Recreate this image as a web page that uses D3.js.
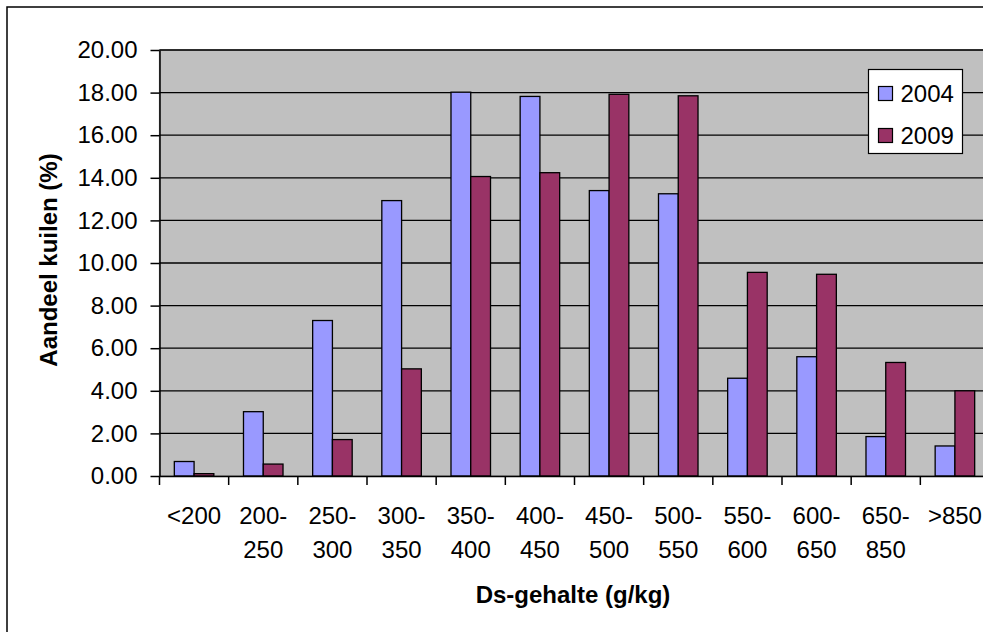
<!DOCTYPE html>
<html>
<head>
<meta charset="utf-8">
<script src="https://cdn.jsdelivr.net/npm/d3@7"></script>
<style>
  html, body { margin: 0; padding: 0; background: #fff; overflow: hidden; }
  text { font-family: Arial, "Liberation Sans", sans-serif; }
</style>
</head>
<body>
<script>
const width = 983;
const height = 632;
const plot = { left: 159.5, top: 50, right: 989.5, bottom: 476 };

const categories = ['<200', '200-250', '250-300', '300-350', '350-400', '400-450',
  '450-500', '500-550', '550-600', '600-650', '650-850', '>850'];
const series = ['2004', '2009'];
const values2004 = [0.68, 3.02, 7.30, 12.93, 18.02, 17.82, 13.40, 13.25, 4.59, 5.60, 1.85, 1.41];
const values2009 = [0.11, 0.56, 1.71, 5.03, 14.06, 14.24, 17.92, 17.85, 9.56, 9.47, 5.33, 4.00];
const yTicks = [0, 2, 4, 6, 8, 10, 12, 14, 16, 18, 20];

const colors = { '2004': '#9999FF', '2009': '#993366' };

const data = categories.map((c, i) => ({ cat: c, '2004': values2004[i], '2009': values2009[i] }));

const svg = d3.select('body')
  .append('svg')
    .attr('width', width)
    .attr('height', height);

// chart border
svg.append('rect')
  .attr('x', 7).attr('y', 7)
  .attr('width', width + 20).attr('height', height + 20)
  .attr('fill', '#fff')
  .attr('stroke', '#000')
  .attr('stroke-width', 1.5);

const x = d3.scaleBand()
  .domain(categories)
  .range([plot.left, plot.right]);

const xs = d3.scaleBand()
  .domain(series)
  .range([0, x.bandwidth()])
  .paddingInner(0)
  .paddingOuter(0.75);

const y = d3.scaleLinear()
  .domain([0, 20])
  .range([plot.bottom, plot.top]);

// plot area
svg.append('rect')
  .attr('x', plot.left).attr('y', plot.top)
  .attr('width', plot.right - plot.left).attr('height', plot.bottom - plot.top)
  .attr('fill', '#C0C0C0')
  .attr('stroke', '#808080')
  .attr('stroke-width', 1.2);

// gridlines
svg.append('g')
  .selectAll('line')
  .data(yTicks.filter(d => d > 0))
  .enter()
    .append('line')
    .attr('x1', plot.left).attr('x2', plot.right)
    .attr('y1', d => y(d)).attr('y2', d => y(d))
    .attr('stroke', '#000')
    .attr('stroke-width', 1.3);

// bars
const groups = svg.selectAll('.grp')
  .data(data)
  .enter()
    .append('g')
    .attr('transform', d => `translate(${x(d.cat)},0)`);

groups.selectAll('rect')
  .data(d => series.map(s => ({ s, v: d[s] })))
  .enter()
    .append('rect')
    .attr('x', d => xs(d.s))
    .attr('width', xs.bandwidth())
    .attr('y', d => y(d.v))
    .attr('height', d => y(0) - y(d.v))
    .attr('fill', d => colors[d.s])
    .attr('stroke', '#000')
    .attr('stroke-width', 1.3);

// y axis
const yAxis = d3.axisLeft(y)
  .tickValues(yTicks)
  .tickSizeInner(9)
  .tickSizeOuter(0)
  .tickPadding(13)
  .tickFormat(d3.format('.2f'));

const yg = svg.append('g')
  .attr('transform', `translate(${plot.left},0)`)
  .call(yAxis);
yg.select('.domain').attr('stroke', '#000').attr('stroke-width', 1.5);
yg.selectAll('.tick line').attr('stroke', '#000').attr('stroke-width', 1.5);
yg.selectAll('.tick text')
  .attr('font-size', '24px')
  .attr('fill', '#000')
  .attr('font-family', 'Arial, "Liberation Sans", sans-serif');

// x axis
const xAxis = d3.axisBottom(x)
  .tickSize(0)
  .tickFormat('');

const xg = svg.append('g')
  .attr('transform', `translate(0,${plot.bottom})`)
  .call(xAxis);
xg.select('.domain').attr('stroke', '#000').attr('stroke-width', 1.5);

// category boundary ticks
xg.selectAll('.bound')
  .data(categories)
  .enter()
    .append('line')
    .attr('x1', d => x(d)).attr('x2', d => x(d))
    .attr('y1', 0).attr('y2', 9)
    .attr('stroke', '#000')
    .attr('stroke-width', 1.5);

// category labels (wrapped at the dash)
const labels = svg.append('g')
  .selectAll('text')
  .data(categories)
  .enter()
    .append('text')
    .attr('text-anchor', 'middle')
    .attr('font-size', '24px')
    .attr('fill', '#000');

labels.each(function (d) {
  const parts = d.includes('-') ? [d.split('-')[0] + '-', d.split('-')[1]] : [d];
  const cx = x(d) + x.bandwidth() / 2;
  d3.select(this).selectAll('tspan')
    .data(parts)
    .enter()
      .append('tspan')
      .attr('x', cx)
      .attr('y', (p, i) => 524 + i * 34)
      .text(p => p);
});

// axis titles
svg.append('text')
  .attr('x', 573)
  .attr('y', 603)
  .attr('text-anchor', 'middle')
  .attr('font-size', '24px')
  .attr('font-weight', 'bold')
  .text('Ds-gehalte (g/kg)');

svg.append('text')
  .attr('transform', 'translate(57,260) rotate(-90)')
  .attr('text-anchor', 'middle')
  .attr('font-size', '24px')
  .attr('font-weight', 'bold')
  .text('Aandeel kuilen (%)');

// legend
const legend = svg.append('g');
legend.append('rect')
  .attr('x', 868.5).attr('y', 69.5)
  .attr('width', 94).attr('height', 84)
  .attr('fill', '#fff')
  .attr('stroke', '#000')
  .attr('stroke-width', 1.2);

const items = legend.selectAll('.item')
  .data(series)
  .enter()
    .append('g')
    .attr('transform', (d, i) => `translate(878.5,${86.5 + i * 42})`);

items.append('rect')
  .attr('width', 14).attr('height', 14)
  .attr('fill', d => colors[d])
  .attr('stroke', '#000')
  .attr('stroke-width', 1.2);

items.append('text')
  .attr('x', 22)
  .attr('y', 15.5)
  .attr('font-size', '24px')
  .attr('fill', '#000')
  .text(d => d);
</script>
</body>
</html>
